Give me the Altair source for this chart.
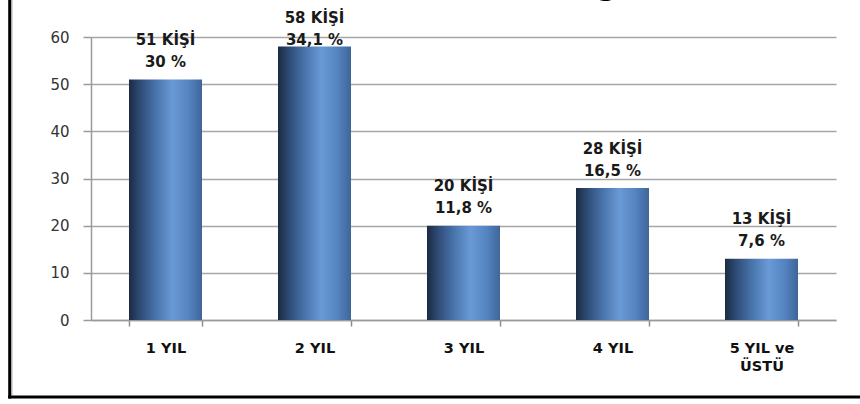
import altair as alt
import pandas as pd

# Years of experience groups, head counts and shares
categories = ["1 YIL", "2 YIL", "3 YIL", "4 YIL", "5 YIL ve|ÜSTÜ"]
counts = [51, 58, 20, 28, 13]
percents = [30, 34.1, 11.8, 16.5, 7.6]

df = pd.DataFrame({
    "cat": categories,
    "count": counts,
    "count_label": [f"{c} KİŞİ" for c in counts],
    "pct_label": [f"{p:g}".replace(".", ",") + " %" for p in percents],
})

W, H = 745, 283

x_enc = alt.X(
    "cat:N",
    sort=categories,
    scale=alt.Scale(paddingInner=0.51, paddingOuter=0.255),
    axis=alt.Axis(
        title=None,
        labelAngle=0,
        labelExpr="split(datum.label, '|')",
        labelFont="DejaVu Sans",
        labelFontWeight="bold",
        labelFontSize=14.5,
        labelColor="#111111",
        labelLineHeight=18,
        labelPadding=15,
        tickBand="extent",
        tickSize=6,
        tickColor="#8c8c8c",
        tickWidth=1.5,
        domainColor="#9a9a9a",
        domainWidth=1.5,
        grid=False,
    ),
)

y_scale = alt.Scale(domain=[0, 60], nice=False)

bar_fill = alt.Gradient(
    gradient="linear",
    x1=0, x2=1, y1=0, y2=0,
    stops=[
        alt.GradientStop(color="#1b2b42", offset=0),
        alt.GradientStop(color="#2e4b75", offset=0.15),
        alt.GradientStop(color="#4a76ae", offset=0.38),
        alt.GradientStop(color="#6a9ad6", offset=0.6),
        alt.GradientStop(color="#5483c0", offset=0.82),
        alt.GradientStop(color="#3e6699", offset=1),
    ],
)

base = alt.Chart(df)

bars = base.mark_bar(color=bar_fill).encode(
    x=x_enc,
    y=alt.Y(
        "count:Q",
        scale=y_scale,
        axis=alt.Axis(
            title=None,
            values=[0, 10, 20, 30, 40, 50, 60],
            grid=True,
            gridColor="#a6a6a6",
            gridWidth=1.5,
            domainColor="#9a9a9a",
            domainWidth=1.5,
            tickColor="#9a9a9a",
            tickWidth=1.5,
            tickSize=8,
            labelFont="DejaVu Sans",
            labelFontSize=15,
            labelColor="#333333",
            labelPadding=14,
        ),
    ),
)

# label position: a little above the bar, kept inside the top of the plot
labels = base.transform_calculate(
    label_y="min(datum['count'] + 2.6, 58.3)"
)

pct_text = labels.mark_text(
    font="DejaVu Sans", fontWeight="bold", fontSize=15,
    color="#1a1a1a", baseline="alphabetic", align="center",
).encode(
    x=alt.X("cat:N", sort=categories),
    y=alt.Y("label_y:Q", scale=y_scale),
    text="pct_label:N",
)

count_text = labels.mark_text(
    font="DejaVu Sans", fontWeight="bold", fontSize=15,
    color="#1a1a1a", baseline="alphabetic", align="center", dy=-22,
).encode(
    x=alt.X("cat:N", sort=categories),
    y=alt.Y("label_y:Q", scale=y_scale),
    text="count_label:N",
)

frame = alt.Chart(pd.DataFrame({"k": [0]}))

left_border = frame.mark_rule(color="#000000", strokeWidth=3).encode(
    x=alt.value(-81.3), y=alt.value(-37), y2=alt.value(H + 78.5)
)
left_shadow = frame.mark_rule(color="#a0a0a0", strokeWidth=1.2).encode(
    x=alt.value(-79.2), y=alt.value(-37), y2=alt.value(H + 75.5)
)
bottom_border = frame.mark_rule(color="#000000", strokeWidth=3).encode(
    x=alt.value(-82.8), x2=alt.value(W + 30), y=alt.value(H + 77)
)

title_frag = frame.mark_text(
    text="g", font="DejaVu Sans", fontWeight="bold", fontSize=30,
    color="#000000", align="center", baseline="alphabetic",
).encode(x=alt.value(516), y=alt.value(-42))

chart = alt.layer(
    bars, pct_text, count_text, left_border, left_shadow, bottom_border, title_frag
).properties(
    width=W,
    height=H,
    padding={"left": 91, "top": 37, "right": 24, "bottom": 84},
    autosize="none",
    background="#ffffff",
).configure_view(stroke=None)

chart.save("out.html", embed_options={"renderer": "svg", "actions": False})
